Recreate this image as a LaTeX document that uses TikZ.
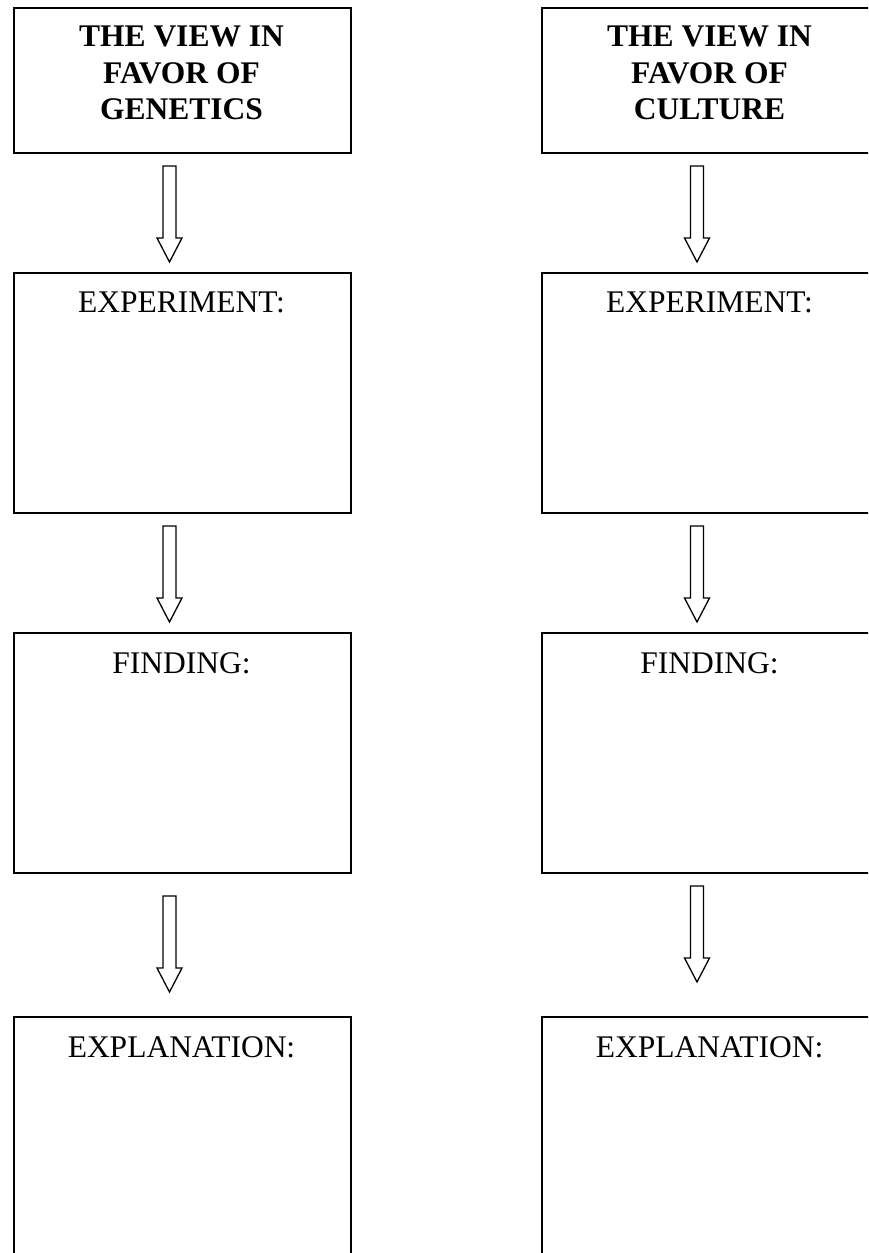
\documentclass[tikz,border=0pt]{standalone}
\usepackage{fontspec}
\setmainfont{Liberation Serif}
\usetikzlibrary{calc}

\tikzset{
  panel/.style={draw=black, line width=1.6pt, fill=white, rectangle, inner sep=0pt,
    anchor=north west, minimum width=337pt},
  headtext/.style={inner sep=0pt, anchor=north, align=center,
    font=\fontsize{31.5}{36.5}\selectfont\bfseries},
  labeltext/.style={inner sep=0pt, anchor=north, font=\fontsize{31.5}{36.5}\selectfont},
  hollowdown/.style={draw=black, line width=1.3pt, line join=miter,
    to path={($(\tikztostart)+(-6.5,0)$) -- ($(\tikztostart)+(6.5,0)$)
      -- ($(\tikztotarget)+(6.5,-24)$) -- ($(\tikztotarget)+(12.5,-24)$)
      -- (\tikztotarget) -- ($(\tikztotarget)+(-12.5,-24)$)
      -- ($(\tikztotarget)+(-6.5,-24)$) -- cycle}}
}

\begin{document}
\begin{tikzpicture}[x=1pt,y=-1pt]
  \useasboundingbox (0,0) rectangle (868,1253);
  \clip (0,0) rectangle (868,1253);

  % left column: genetics
  \node[panel, minimum height=145pt] (gtop) at (13,7) {};
  \node[panel, minimum height=240pt] (gexp) at (13,272) {};
  \node[panel, minimum height=240pt] (gfind) at (13,632) {};
  \node[panel, minimum height=260pt] (gexpl) at (13,1016) {};

  \node[headtext] (gtoptext) at (181.5,26) {THE VIEW IN\\FAVOR OF\\GENETICS};
  \node[labeltext] (gexptext) at (181.5,292) {EXPERIMENT:};
  \node[labeltext] (gfindtext) at (181.5,652) {FINDING:};
  \node[labeltext] (gexpltext) at (181.5,1036) {EXPLANATION:};

  % right column: culture
  \node[panel, minimum height=145pt] (ctop) at (541,7) {};
  \node[panel, minimum height=240pt] (cexp) at (541,272) {};
  \node[panel, minimum height=240pt] (cfind) at (541,632) {};
  \node[panel, minimum height=260pt] (cexpl) at (541,1016) {};

  \node[headtext] (ctoptext) at (709.5,26) {THE VIEW IN\\FAVOR OF\\CULTURE};
  \node[labeltext] (cexptext) at (709.5,292) {EXPERIMENT:};
  \node[labeltext] (cfindtext) at (709.5,652) {FINDING:};
  \node[labeltext] (cexpltext) at (709.5,1036) {EXPLANATION:};

  % arrow ends
  \coordinate (ga1s) at (169.5,166); \coordinate (ga1e) at (169.5,262);
  \coordinate (ga2s) at (169.5,526); \coordinate (ga2e) at (169.5,622);
  \coordinate (ga3s) at (169.5,896); \coordinate (ga3e) at (169.5,992);
  \coordinate (ca1s) at (697,166); \coordinate (ca1e) at (697,262);
  \coordinate (ca2s) at (697,526); \coordinate (ca2e) at (697,622);
  \coordinate (ca3s) at (697,886); \coordinate (ca3e) at (697,982);

  \draw[hollowdown] (ga1s) to (ga1e);
  \draw[hollowdown] (ga2s) to (ga2e);
  \draw[hollowdown] (ga3s) to (ga3e);
  \draw[hollowdown] (ca1s) to (ca1e);
  \draw[hollowdown] (ca2s) to (ca2e);
  \draw[hollowdown] (ca3s) to (ca3e);
\end{tikzpicture}
\end{document}
